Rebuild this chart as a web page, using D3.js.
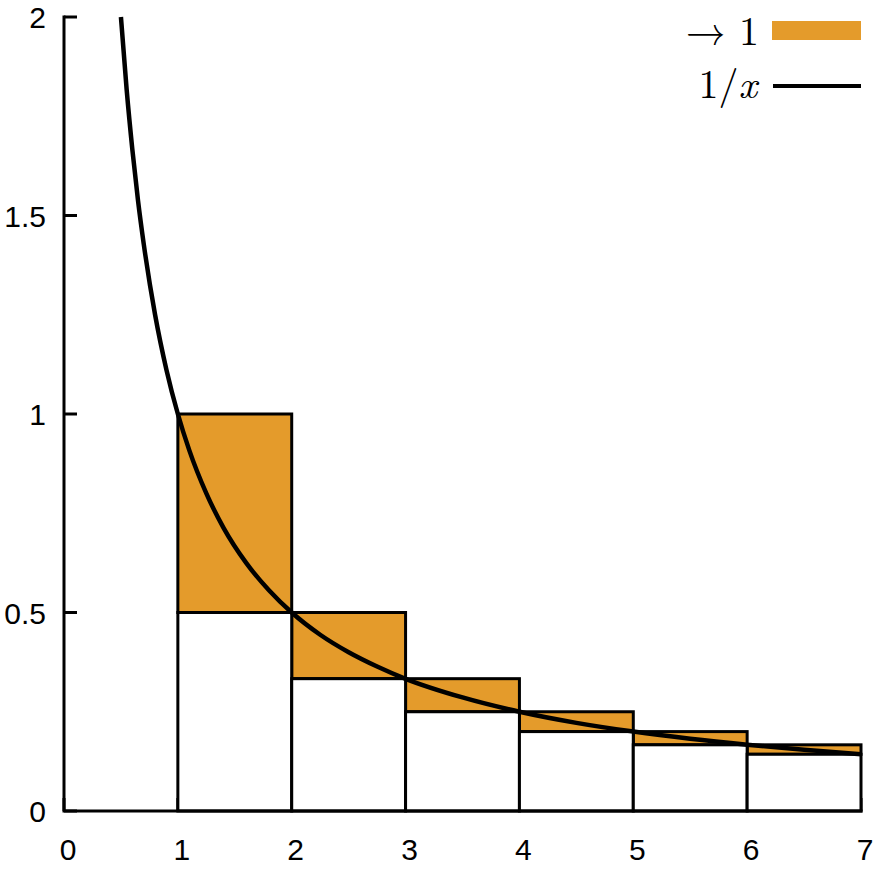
<!DOCTYPE html>
<html>
<head>
<meta charset="utf-8">
<script src="https://cdn.jsdelivr.net/npm/d3@7"></script>
<style>
  body { margin: 0; background: #fff; }
  svg { display: block; }
</style>
</head>
<body>
<script>
// step bars: [n, n+1] with top 1/n and white part up to 1/(n+1)
const barStart = [1, 2, 3, 4, 5, 6];
const barTop = [1, 0.5, 0.3333, 0.25, 0.2, 0.1667];
const barBottom = [0.5, 0.3333, 0.25, 0.2, 0.1667, 0.1429];

// sampled points of the 1/x curve
const curveX = [0.5, 0.55, 0.6, 0.65, 0.7, 0.8, 0.9, 1, 1.1, 1.25, 1.4, 1.6, 1.8, 2, 2.25, 2.5, 2.75, 3, 3.5, 4, 4.5, 5, 5.5, 6, 6.5, 7];
const curveY = [2, 1.818, 1.667, 1.538, 1.429, 1.25, 1.111, 1, 0.909, 0.8, 0.714, 0.625, 0.556, 0.5, 0.444, 0.4, 0.364, 0.333, 0.286, 0.25, 0.222, 0.2, 0.182, 0.167, 0.154, 0.143];

const xTicks = [0, 1, 2, 3, 4, 5, 6, 7];
const yTicks = [0, 0.5, 1, 1.5, 2];
const yTickLabels = ["0", "0.5", "1", "1.5", "2"];

const width = 875, height = 874;
const orange = "#e49b2b";

const x = d3.scaleLinear().domain([0, 7]).range([64, 861]);
const y = d3.scaleLinear().domain([0, 2]).range([811, 17]);

const svg = d3.select("body").append("svg")
    .attr("width", width)
    .attr("height", height);

const bars = barStart.map((s, i) => ({ x0: s, x1: s + 1, top: barTop[i], bottom: barBottom[i] }));

// inward ticks
const tickG = svg.append("g").attr("stroke", "#000").attr("stroke-width", 3);
tickG.selectAll("line.y")
    .data(yTicks)
    .join("line")
    .attr("x1", x(0)).attr("x2", x(0) + 13)
    .attr("y1", d => y(d)).attr("y2", d => y(d));
tickG.selectAll("line.x")
    .data(xTicks)
    .join("line")
    .attr("x1", d => x(d)).attr("x2", d => x(d))
    .attr("y1", y(0)).attr("y2", y(0) - 13);

// orange part
svg.append("g")
    .selectAll("rect")
    .data(bars)
    .join("rect")
    .attr("x", d => x(d.x0))
    .attr("y", d => y(d.top))
    .attr("width", d => x(d.x1) - x(d.x0))
    .attr("height", d => y(d.bottom) - y(d.top))
    .attr("fill", orange)
    .attr("stroke", "#000")
    .attr("stroke-width", 3);

// white part
svg.append("g")
    .selectAll("rect")
    .data(bars)
    .join("rect")
    .attr("x", d => x(d.x0))
    .attr("y", d => y(d.bottom))
    .attr("width", d => x(d.x1) - x(d.x0))
    .attr("height", d => y(0) - y(d.bottom))
    .attr("fill", "#fff")
    .attr("stroke", "#000")
    .attr("stroke-width", 3);

// curve
const pts = curveX.map((v, i) => [v, curveY[i]]);
svg.append("path")
    .datum(pts)
    .attr("fill", "none")
    .attr("stroke", "#000")
    .attr("stroke-width", 4.5)
    .attr("d", d3.line().x(d => x(d[0])).y(d => y(d[1])).curve(d3.curveMonotoneX));

// axes spines
svg.append("path")
    .attr("d", `M${x(0)},${y(2)}V${y(0)}H${x(7)}`)
    .attr("fill", "none")
    .attr("stroke", "#000")
    .attr("stroke-width", 3)
    .attr("stroke-linecap", "square");

// tick labels
svg.append("g")
    .attr("font-family", "Liberation Sans, Arial, sans-serif")
    .attr("font-size", 30)
    .attr("text-anchor", "end")
    .selectAll("text")
    .data(yTicks)
    .join("text")
    .attr("x", 46)
    .attr("y", d => y(d) + 11)
    .text((d, i) => yTickLabels[i]);

svg.append("g")
    .attr("font-family", "Liberation Sans, Arial, sans-serif")
    .attr("font-size", 30)
    .attr("text-anchor", "middle")
    .selectAll("text")
    .data(xTicks)
    .join("text")
    .attr("x", d => x(d) + 4)
    .attr("y", 860)
    .text(d => d);

// legend
const legend = svg.append("g")
    .attr("font-family", "Latin Modern Roman, DejaVu Serif, serif")
    .attr("font-size", 40)
    .attr("text-anchor", "end");

legend.append("text").attr("x", 759).attr("y", 45).text("→ 1");
legend.append("rect")
    .attr("x", 772).attr("y", 21).attr("width", 89).attr("height", 19)
    .attr("fill", orange);

const lx = legend.append("text").attr("x", 757).attr("y", 98);
lx.append("tspan").text("1/");
lx.append("tspan").attr("font-style", "italic").text("x");
legend.append("line")
    .attr("x1", 773).attr("x2", 861).attr("y1", 86).attr("y2", 86)
    .attr("stroke", "#000").attr("stroke-width", 4);
</script>
</body>
</html>
